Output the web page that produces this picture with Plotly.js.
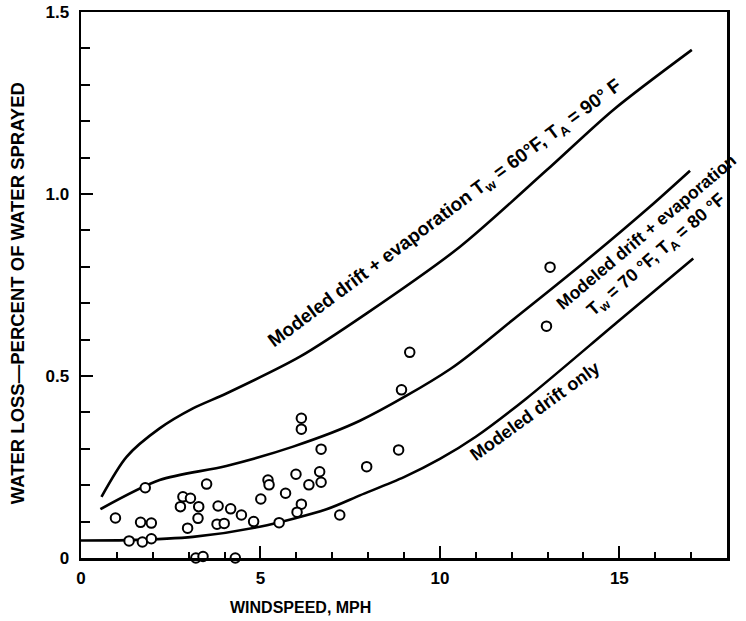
<!DOCTYPE html>
<html>
<head>
<meta charset="utf-8">
<script src="https://cdn.plot.ly/plotly-3.0.1.min.js"></script>
<style>html,body{margin:0;padding:0;background:#fff;}#chart{width:746px;height:621px;}</style>
</head>
<body>
<div id="chart"></div>
<script>
// Observed water loss points
const obsWind = [0.96,1.79,1.66,1.96,1.34,1.71,1.96,2.77,2.84,3.05,2.97,3.28,3.26,3.50,3.20,3.40,3.82,3.79,3.99,4.17,4.47,4.30,4.81,5.01,5.21,5.24,5.52,5.70,5.99,6.14,6.14,6.35,6.69,6.65,6.69,6.14,6.02,7.21,7.96,8.85,8.93,9.16,12.97,13.07];
const obsLoss = [0.110,0.193,0.098,0.096,0.047,0.044,0.053,0.141,0.168,0.164,0.082,0.141,0.109,0.203,0.0,0.004,0.143,0.093,0.095,0.135,0.118,0.0,0.100,0.162,0.214,0.201,0.097,0.178,0.230,0.384,0.354,0.201,0.299,0.237,0.208,0.148,0.126,0.118,0.251,0.297,0.462,0.565,0.637,0.799];

// Modeled drift + evaporation, Tw = 60F, TA = 90F
const evap60Wind = [0.57,1.27,2.19,3.12,4.05,6.10,7.96,10.56,12.97,14.83,17.02];
const evap60Loss = [0.168,0.278,0.356,0.411,0.452,0.553,0.672,0.855,1.065,1.231,1.396];

// Modeled drift + evaporation, Tw = 70F, TA = 80F
const evap70Wind = [0.54,2.19,4.05,5.91,7.77,10.3,12.14,13.99,15.85,16.97];
const evap70Loss = [0.134,0.214,0.253,0.306,0.377,0.52,0.663,0.81,0.965,1.064];

// Modeled drift only
const driftWind = [0,1.27,3.12,4.98,6.84,7.77,9.0,10.0,11.0,12.42,14.93,17.06];
const driftLoss = [0.048,0.049,0.058,0.086,0.134,0.172,0.222,0.272,0.333,0.439,0.647,0.823];

const xTickVals = [0,5,10,15];
const xTickText = ['0','5','10','15'];
const yTickVals = [0,0.5,1.0,1.5];
const yTickText = ['0','0.5','1.0','1.5'];

const FONT = 'Liberation Sans, Arial, Helvetica, sans-serif';
const bold = s => '<b>' + s + '</b>';

const lineStyle = {color:'#000', width:2.6, shape:'spline', smoothing:0.8};

const traces = [
  {x:evap60Wind, y:evap60Loss, mode:'lines', line:lineStyle, hoverinfo:'skip'},
  {x:evap70Wind, y:evap70Loss, mode:'lines', line:lineStyle, hoverinfo:'skip'},
  {x:driftWind, y:driftLoss, mode:'lines', line:lineStyle, hoverinfo:'skip'},
  {x:obsWind, y:obsLoss, mode:'markers', cliponaxis:false,
   marker:{symbol:'circle', size:9.5, color:'#fff', line:{color:'#000', width:2}}}
];

const annFont = {family:FONT, size:18, color:'#000'};

const layout = {
  width:746, height:621,
  margin:{l:81, r:19, t:12, b:63},
  paper_bgcolor:'#fff', plot_bgcolor:'#fff',
  showlegend:false,
  xaxis:{
    range:[0,18], showgrid:false, zeroline:false,
    showline:true, linecolor:'#000', linewidth:2.5, mirror:true,
    tickmode:'array', tickvals:xTickVals, ticktext:xTickText.map(bold),
    ticks:'inside', ticklen:12, tickwidth:2, tickcolor:'#000',
    minor:{dtick:1, ticks:'inside', ticklen:6, tickwidth:2, tickcolor:'#000', showgrid:false},
    tickfont:{family:FONT, size:17, color:'#000'},
    ticklabelstandoff:3
  },
  yaxis:{
    range:[0,1.5], showgrid:false, zeroline:false,
    showline:true, linecolor:'#000', linewidth:2.5, mirror:true,
    tickmode:'array', tickvals:yTickVals, ticktext:yTickText.map(bold),
    ticks:'inside', ticklen:12, tickwidth:2, tickcolor:'#000',
    minor:{dtick:0.1, ticks:'inside', ticklen:9, tickwidth:2, tickcolor:'#000', showgrid:false},
    tickfont:{family:FONT, size:17, color:'#000'},
    ticklabelstandoff:6
  },
  annotations:[
    {xref:'paper', yref:'paper', x:(300-81)/646, y:-0.09, xanchor:'center', yanchor:'middle',
     text:bold('WINDSPEED, MPH'), showarrow:false, font:{family:FONT, size:16, color:'#000'}},
    {xref:'paper', yref:'paper', x:-0.099, y:0.485, xanchor:'center', yanchor:'middle', textangle:-90,
     text:bold('WATER LOSS\u2014PERCENT OF WATER SPRAYED'), showarrow:false, font:{family:FONT, size:18.5, color:'#000'}},
    {x:10.15, y:0.945, text:bold('Modeled drift + evaporation T<sub>w</sub> = 60\u00b0F, T<sub>A</sub> = 90\u00b0 F'),
     showarrow:false, textangle:-36.7, font:{family:FONT, size:19, color:'#000'}},
    {x:15.75, y:0.895, text:bold('Modeled drift + evaporation'), showarrow:false, textangle:-40.3, font:{family:FONT, size:17.5, color:'#000'}},
    {x:16.05, y:0.83, text:bold('T<sub>w</sub> = 70 \u00b0F, T<sub>A</sub> = 80 \u00b0F'), showarrow:false, textangle:-41, font:annFont},
    {x:12.65, y:0.405, text:bold('Modeled drift only'), showarrow:false, textangle:-36, font:annFont}
  ]
};

Plotly.newPlot('chart', traces, layout, {displayModeBar:false, staticPlot:true});
</script>
</body>
</html>
